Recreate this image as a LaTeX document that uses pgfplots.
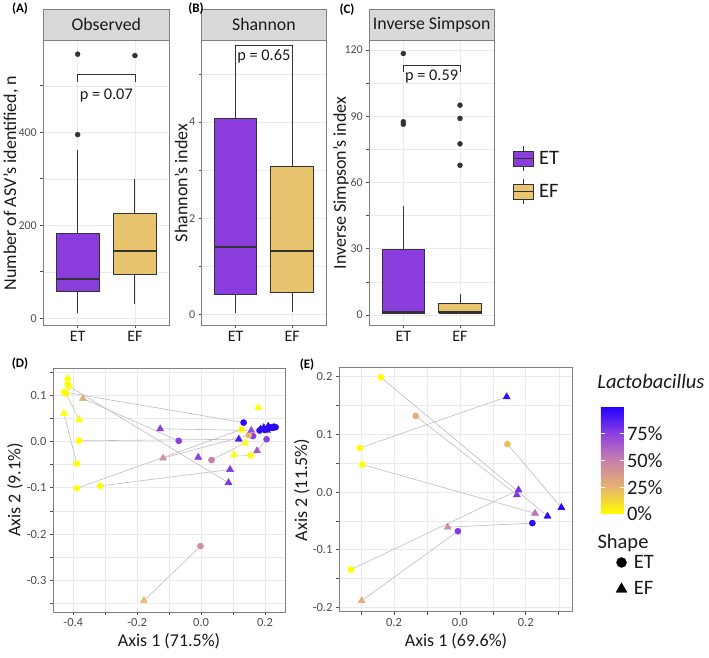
\documentclass[border=0pt]{standalone}
\usepackage{pgfplots}
\pgfplotsset{compat=1.18}
\usepackage{fontspec}
\setmainfont{Carlito}
\definecolor{etcol}{HTML}{8A3DDC}
\definecolor{efcol}{HTML}{E9C46E}
\definecolor{boxline}{HTML}{333333}
\definecolor{gridc}{HTML}{EBEBEB}
\definecolor{framec}{HTML}{808080}
\definecolor{tickc}{HTML}{4D4D4D}
\definecolor{segc}{HTML}{BDBDBD}
\definecolor{stripc}{HTML}{D9D9D9}
\definecolor{txt}{HTML}{1A1A1A}
\pgfplotsset{
  colormap={lacto}{rgb255=(255,255,0) rgb255=(232,178,112) rgb255=(200,128,170) rgb255=(140,64,224) rgb255=(32,0,255)},
  ggbase/.style={
    scale only axis,
    axis line style={framec, line width=0.6pt},
    tick align=outside,
    major tick length=3pt,
    tick style={tickc, line width=0.6pt},
    tick pos=left,
    grid=both,
    major grid style={gridc, line width=0.7pt},
    minor grid style={gridc, line width=0.35pt},
    ticklabel style={tickc, font=\fontsize{12}{12}\selectfont},
  },
  boxax/.style={ggbase, xmin=0.4, xmax=2.6, xtick={1,2}, xticklabels={ET,EF},
    xticklabel style={font=\fontsize{16}{16}\selectfont, text=txt},
  },
  outl/.style={only marks, mark=*, mark size=2.5pt, boxline, forget plot},
  brk/.style={boxline, line width=0.8pt, forget plot},
  pts/.style={only marks, scatter, point meta=explicit, scatter/use mapped color={draw=mapped color, fill=mapped color}, forget plot},
  seg/.style={segc, line width=0.6pt, forget plot},
  pcaax/.style={ggbase, colormap name=lacto, point meta min=0, point meta max=1,
    ticklabel style={font=\fontsize{12.5}{12.5}\selectfont}},
}
% box: left, centre, right, lower whisker, Q1, median, Q3, upper whisker, colour
\newcommand{\gbox}[9]{%
  \addplot[boxline, line width=0.9pt, forget plot] coordinates {(#2,#4) (#2,#5)};
  \addplot[boxline, line width=0.9pt, forget plot] coordinates {(#2,#7) (#2,#8)};
  \addplot[fill=#9, draw=boxline, line width=0.9pt, forget plot] coordinates {(#1,#5) (#3,#5) (#3,#7) (#1,#7) (#1,#5)};
  \addplot[boxline, line width=1.9pt, forget plot] coordinates {(#1,#6) (#3,#6)};
}
\newcommand{\ptext}[1]{{\fontsize{16.3}{16.3}\selectfont #1}}
\begin{document}
\begin{tikzpicture}
\path[use as bounding box] (0pt,0pt) rectangle (709pt,658pt);

% ---------------- (A) Observed
\begin{axis}[boxax, at={(43.3pt,333pt)}, anchor=south west, width=126pt, height=284.3pt,
  ymin=-14.4, ymax=597, ytick={0,200,400}, yticklabels={0,200,400}, minor ytick={100,300,500}]
\gbox{0.625}{1}{1.375}{10.75}{58}{84}{182}{362}{etcol}
\gbox{1.625}{2}{2.375}{31}{95}{145}{226}{300}{efcol}
\addplot[outl] coordinates {(1,395) (1,568) (2,565)};
\addplot[brk] coordinates {(1,509) (1,524) (2,524) (2,509)};
\node[text=txt] at (axis cs:1.5,479) {\ptext{p = 0.07}};
\end{axis}

% ---------------- (B) Shannon
\begin{axis}[boxax, at={(201.7pt,333pt)}, anchor=south west, width=124.3pt, height=284.3pt,
  ymin=-0.214, ymax=5.69, ytick={0,2,4}, yticklabels={0,2,4}, minor ytick={1,3,5}]
\gbox{0.625}{1}{1.375}{0.04}{0.41}{1.41}{4.07}{5.45}{etcol}
\gbox{1.625}{2}{2.375}{0.06}{0.46}{1.33}{3.07}{5.45}{efcol}
\addplot[brk] coordinates {(1,5.39) (1,5.6) (2,5.6) (2,5.39)};
\node[text=txt] at (axis cs:1.5,5.36) {\ptext{p = 0.65}};
\end{axis}

% ---------------- (C) Inverse Simpson
\begin{axis}[boxax, at={(369.3pt,333pt)}, anchor=south west, width=124.7pt, height=284.3pt,
  ymin=-4.5, ymax=124.2, ytick={0,30,60,90,120}, yticklabels={0,30,60,90,120}, minor ytick={15,45,75,105},
  legend style={at={(1.1467,0.527)}, anchor=west, draw=none, fill=none, inner sep=0pt, row sep=7pt,
    font=\fontsize{20.5}{20.5}\selectfont, nodes={inner sep=1pt, text=txt},
    /tikz/every odd column/.append style={column sep=4pt}},
  legend cell align=left]
\gbox{0.625}{1}{1.375}{0.4}{0.8}{1.5}{29.6}{49.4}{etcol}
\gbox{1.625}{2}{2.375}{0.4}{0.8}{1.5}{5.3}{9.5}{efcol}
\addplot[outl] coordinates {(1,118.4) (1,87.5) (1,86.4) (2,95) (2,89) (2,77.5) (2,67.8)};
\addplot[brk] coordinates {(1,110.2) (1,113.2) (2,113.2) (2,110.2)};
\node[text=txt] at (axis cs:1.5,107.9) {\ptext{p = 0.59}};
\addlegendimage{legend image code/.code={
  \draw[fill=etcol, draw=boxline, line width=0.9pt] (0pt,-7.5pt) rectangle (20pt,7.5pt);
  \draw[boxline, line width=1.5pt] (0pt,0pt) -- (20pt,0pt);
  \draw[boxline, line width=0.9pt] (10pt,7.5pt) -- (10pt,12.5pt) (10pt,-7.5pt) -- (10pt,-12.5pt);}}
\addlegendentry{ET}
\addlegendimage{legend image code/.code={
  \draw[fill=efcol, draw=boxline, line width=0.9pt] (0pt,-7.5pt) rectangle (20pt,7.5pt);
  \draw[boxline, line width=1.5pt] (0pt,0pt) -- (20pt,0pt);
  \draw[boxline, line width=0.9pt] (10pt,7.5pt) -- (10pt,12.5pt) (10pt,-7.5pt) -- (10pt,-12.5pt);}}
\addlegendentry{EF}
\end{axis}

% ---------------- (D) PCoA  (also carries the Shape legend)
\begin{axis}[pcaax, at={(53pt,46pt)}, anchor=south west, width=232pt, height=244pt,
  xmin=-0.4634, xmax=0.2625, ymin=-0.3685, ymax=0.159,
  xtick={-0.4,-0.2,0,0.2}, xticklabels={-0.4,-0.2,0.0,0.2},
  ytick={-0.3,-0.2,-0.1,0,0.1}, yticklabels={-0.3,-0.2,-0.1,0.0,0.1},
  minor xtick={-0.3,-0.1,0.1}, minor ytick={-0.35,-0.25,-0.15,-0.05,0.05,0.15},
  legend style={at={(2.426,0.1484)}, anchor=west, draw=none, fill=none, inner sep=0pt, row sep=10pt,
    font=\fontsize{20.5}{20.5}\selectfont, nodes={inner sep=1pt, text=txt},
    /tikz/every odd column/.append style={column sep=6pt}},
  legend cell align=left]
\addplot[seg] coordinates {(-0.417,0.121) (0.0856,-0.089)};
\addplot[seg] coordinates {(-0.429,0.107) (0.133,0.041)};
\addplot[seg] coordinates {(-0.370,0.093) (-0.070,0.0015)};
\addplot[seg] coordinates {(-0.429,0.061) (-0.389,-0.048)};
\addplot[seg] coordinates {(-0.423,0.104) (-0.381,0.047)};
\addplot[seg] coordinates {(-0.382,0.0015) (0.118,0.005)};
\addplot[seg] coordinates {(-0.128,0.0275) (0.157,0.024)};
\addplot[seg] coordinates {(-0.389,-0.101) (0.126,0.026)};
\addplot[seg] coordinates {(-0.119,-0.036) (0.149,0.014)};
\addplot[seg] coordinates {(-0.316,-0.096) (0.0906,-0.0605)};
\addplot[seg] coordinates {(0.0325,-0.040) (0.1375,-0.003)};
\addplot[seg] coordinates {(0.103,-0.029) (0.155,-0.030)};
\addplot[seg] coordinates {(0.175,-0.020) (0.205,0.005)};
\addplot[seg] coordinates {(-0.002,-0.226) (-0.179,-0.344)};
\addplot[pts, mark=*, mark size=3.1pt] table[meta=c] {
x y c
-0.417 0.125 0
-0.414 0.119 0
-0.429 0.107 0
-0.423 0.104 0
-0.382 0.0015 0
-0.389 -0.048 0
-0.389 -0.101 0
-0.316 -0.096 0
-0.070 0.0015 0.75
0.0325 -0.040 0.5
-0.002 -0.226 0.42
0.133 0.041 0.97
0.126 0.026 0
0.1625 0.0117 0.75
0.149 0.014 0.25
0.205 0.005 0.75
0.155 -0.030 0
0.183 0.024 0.97
0.213 0.031 0.98
0.223 0.030 0.98
0.228 0.032 1
0.233 0.031 0.98
0.200 0.025 0.95
};
\addplot[pts, mark=triangle*, mark size=4.1pt] table[meta=c] {
x y c
-0.4175 0.137 0
-0.370 0.093 0.28
-0.429 0.061 0
-0.381 0.047 0
-0.128 0.0275 0.75
-0.119 -0.036 0.42
0.179 0.0735 0
0.157 0.024 0.7
0.118 0.005 0.9
0.1375 -0.003 0
0.175 -0.020 0.65
0.103 -0.029 0
-0.009 -0.034 0.75
0.0906 -0.0605 0.78
0.0856 -0.089 0.78
-0.179 -0.344 0.22
0.186 0.027 0.97
0.196 0.030 0.97
0.206 0.024 0.97
0.218 0.028 0.98
0.210 0.033 0.97
};
\addlegendimage{only marks, mark=*, mark size=5pt, black}
\addlegendentry{ET}
\addlegendimage{only marks, mark=triangle*, mark size=6.3pt, black}
\addlegendentry{EF}
\end{axis}

% ---------------- (E) PCoA
\begin{axis}[pcaax, at={(339pt,46.3pt)}, anchor=south west, width=233.7pt, height=244.7pt,
  xmin=-0.3667, xmax=0.3424, ymin=-0.2076, ymax=0.2168,
  xtick={-0.2,0,0.2}, xticklabels={0.2,0.0,0.2},
  ytick={-0.2,-0.1,0,0.1,0.2}, yticklabels={-0.2,-0.1,0.0,0.1,0.2},
  minor xtick={-0.3,-0.1,0.1,0.3}, minor ytick={-0.15,-0.05,0.05,0.15},
  colorbar,
  colorbar/width=22.6pt,
  colorbar style={scale only axis, at={(parent axis.north east)}, anchor=north west,
    xshift=19.7pt, yshift=-39.7pt, width=22.6pt, height=107.3pt,
    xmin=0, xmax=1, ymin=0, ymax=1,
    ytick={0,0.25,0.5,0.75}, yticklabels={0\%,25\%,50\%,75\%},
    ytick pos=both, yticklabel pos=right, tick align=inside, major tick length=4pt,
    minor tick length=0pt,
    tick style={white, line width=0.6pt},
    axis line style={draw=none}, grid=none,
    yticklabel style={text=txt, font=\fontsize{20.5}{20.5}\selectfont},
    title={\textit{Lactobacillus}},
    title style={at={(0,1)}, anchor=base west, inner sep=0pt, xshift=-3.7pt, yshift=11.7pt, text=txt, font=\fontsize{20.5}{20.5}\selectfont},
  }]
\addplot[seg] coordinates {(-0.240,0.199) (0.266,-0.042)};
\addplot[seg] coordinates {(-0.134,0.132) (0.173,-0.005)};
\addplot[seg] coordinates {(-0.303,0.0764) (0.142,0.165)};
\addplot[seg] coordinates {(-0.296,0.0475) (0.228,-0.037)};
\addplot[seg] coordinates {(-0.330,-0.1345) (0.178,0.0035)};
\addplot[seg] coordinates {(-0.298,-0.1886) (-0.006,-0.068)};
\addplot[seg] coordinates {(-0.037,-0.061) (0.220,-0.054)};
\addplot[seg] coordinates {(0.1445,0.083) (0.308,-0.027)};
\addplot[pts, mark=*, mark size=3.1pt] table[meta=c] {
x y c
-0.240 0.199 0
-0.134 0.132 0.28
-0.303 0.0764 0
-0.296 0.0475 0
-0.330 -0.1345 0
-0.006 -0.068 0.78
0.1445 0.083 0.2
0.220 -0.054 0.97
};
\addplot[pts, mark=triangle*, mark size=4.1pt] table[meta=c] {
x y c
-0.298 -0.1886 0.28
-0.037 -0.061 0.45
0.142 0.165 0.95
0.178 0.0035 0.8
0.173 -0.005 0.78
0.228 -0.037 0.55
0.266 -0.042 0.97
0.308 -0.027 1
};
\end{axis}

% ---------------- strips
\begin{scope}[font=\fontsize{17.8}{17.8}\selectfont]
\draw[framec, fill=stripc, line width=0.6pt] (43.3pt,617.3pt) rectangle (169.3pt,649pt);
\node[text=txt] at (106.3pt,633.2pt) {Observed};
\draw[framec, fill=stripc, line width=0.6pt] (201.7pt,617.3pt) rectangle (326pt,649pt);
\node[text=txt] at (263.9pt,633.2pt) {Shannon};
\draw[framec, fill=stripc, line width=0.6pt] (369.3pt,617.3pt) rectangle (494pt,649pt);
\node[text=txt] at (431.7pt,633.2pt) {Inverse Simpson};
\end{scope}

% ---------------- legend heading
\node[anchor=west, inner sep=0pt, text=txt, font=\fontsize{20.5}{20.5}\selectfont] at (597.3pt,114.7pt) {Shape};

% ---------------- panel letters
\begin{scope}[font=\bfseries\fontsize{13}{13}\selectfont]
\node at (20pt,649pt) {(A)};
\node at (196pt,649pt) {(B)};
\node at (347pt,648pt) {(C)};
\node at (20pt,294pt) {(D)};
\node at (307pt,293pt) {(E)};
\end{scope}

% ---------------- axis titles
\begin{scope}[font=\fontsize{18}{18}\selectfont, text=txt]
\node[rotate=90] at (11pt,475pt) {Number of ASV's identified, n};
\node[rotate=90] at (181pt,475pt) {Shannon's index};
\node[rotate=90] at (341pt,475pt) {Inverse Simpson's index};
\node[rotate=90] at (15pt,168pt) {Axis 2 (9.1\%)};
\node[rotate=90] at (301.7pt,168pt) {Axis 2 (11.5\%)};
\node at (169pt,17pt) {Axis 1 (71.5\%)};
\node at (456pt,17pt) {Axis 1 (69.6\%)};
\end{scope}
\end{tikzpicture}
\end{document}
